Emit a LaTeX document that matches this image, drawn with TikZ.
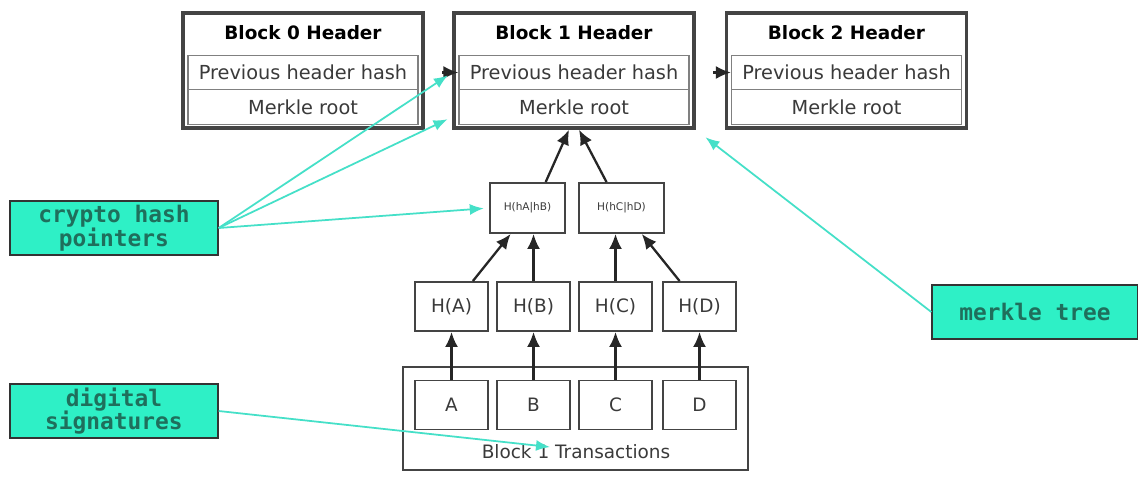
\documentclass[tikz,border=0pt]{standalone}
\usepackage{fontspec}
\setmainfont{DejaVu Sans}
\newfontfamily\tagfont{DejaVu Sans Mono}
\usetikzlibrary{arrows.meta, positioning, calc}
\definecolor{tagFill}{HTML}{2EF0C6}
\definecolor{tagText}{HTML}{1F6F5C}
\definecolor{tagLine}{HTML}{45E0C8}
\definecolor{rowText}{HTML}{3A3A3A}
\definecolor{boxLine}{HTML}{444444}

\begin{document}
\begin{tikzpicture}[x=0.02cm, y=-0.02cm,
        hdr/.style={draw=boxLine, line width=2pt, minimum width=4.8cm, minimum height=2.3cm, inner sep=0pt},
        htitle/.style={font=\fontsize{10.5}{12}\bfseries},
        hrow/.style={draw=gray, line width=0.7pt, minimum width=4.6cm, minimum height=0.69cm, inner sep=0pt,
            text=rowText, font=\fontsize{11}{13}\selectfont},
        hsh/.style={draw=boxLine, line width=1.1pt, minimum width=1.46cm, minimum height=0.98cm, inner sep=0pt,
            text=rowText, font=\fontsize{10.5}{12}\selectfont},
        txbox/.style={draw=boxLine, line width=1.1pt, minimum width=6.9cm, minimum height=2.06cm, inner sep=0pt},
        tag/.style={draw=black!80, fill=tagFill, line width=0.8pt, minimum width=4.16cm, minimum height=1.08cm,
            align=center, text=tagText, font=\tagfont\bfseries\fontsize{13}{13.5}\selectfont, inner sep=0pt},
        arr/.style={-{Latex[length=3mm, width=2.6mm]}, line width=1.3pt, black!85},
        ptr/.style={-{Latex[length=2.8mm, width=2.2mm]}, line width=1pt, tagLine}
    ]
        \fill[white] (0,0) rectangle (1138,477);
        \useasboundingbox (0,0) rectangle (1138,477);

        % block headers
        \node[hdr] (b0) at (303,70.5) {};
        \node[htitle] (t0) at (303,33) {Block 0 Header};
        \node[hrow] (p0) at (303,72.5) {Previous header hash};
        \node[hrow] (m0) at (303,107) {Merkle root};

        \node[hdr] (b1) at (574,70.5) {};
        \node[htitle] (t1) at (574,33) {Block 1 Header};
        \node[hrow] (p1) at (574,72.5) {Previous header hash};
        \node[hrow] (m1) at (574,107) {Merkle root};

        \node[hdr] (b2) at (846.5,70.5) {};
        \node[htitle] (t2) at (846.5,33) {Block 2 Header};
        \node[hrow] (p2) at (846.5,72.5) {Previous header hash};
        \node[hrow] (m2) at (846.5,107) {Merkle root};

        % merkle tree
        \node[hsh, minimum width=1.5cm, minimum height=1cm, font=\fontsize{6}{7}\selectfont] (hAB) at (527.5,208) {H(hA|hB)};
        \node[hsh, minimum width=1.7cm, minimum height=1cm, font=\fontsize{6}{7}\selectfont] (hCD) at (621.5,208) {H(hC|hD)};
        \node[hsh] (hA) at (451.5,306.5) {H(A)};
        \node[hsh] (hB) at (533.5,306.5) {H(B)};
        \node[hsh] (hC) at (615.5,306.5) {H(C)};
        \node[hsh] (hD) at (699.5,306.5) {H(D)};

        % transactions
        \node[txbox] (tx) at (575.5,418.5) {};
        \node[hsh] (A) at (451.5,405) {A};
        \node[hsh] (B) at (533.5,405) {B};
        \node[hsh] (C) at (615.5,405) {C};
        \node[hsh] (D) at (699.5,405) {D};
        \node[text=rowText, font=\fontsize{10.5}{12}\selectfont] (txl) at (576,452) {Block 1 Transactions};

        % labels
        \node[tag] (crypto) at (114,228) {crypto hash\\pointers};
        \node[tag] (digsig) at (114,411) {digital\\signatures};
        \node[tag, minimum width=4.12cm] (mtree) at (1035,312) {merkle tree};

        \draw[arr, shorten <=10pt] (b0.east |- p0) -- (p1.west);
        \draw[arr, shorten <=10pt] (b1.east |- p1) -- (p2.west);

        \draw[arr] (A) -- (hA);
        \draw[arr] (B) -- (hB);
        \draw[arr] (C) -- (hC);
        \draw[arr] (D) -- (hD);
        \draw[arr] (hA.50) -- (hAB.237);
        \draw[arr] (hB.north) -- (hB |- hAB.south);
        \draw[arr] (hC.north) -- (hC |- hCD.south);
        \draw[arr] (hD.128) -- (hCD.-52);
        \draw[arr] (hAB.55) -- ($(b1.south)+(-5,0)$);
        \draw[arr] (hCD.120) -- ($(b1.south)+(5,0)$);

        \coordinate (sig) at (550,447);
        \draw[ptr, shorten >=3pt] (crypto.east) -- (b1.west |- p1);
        \draw[ptr, shorten >=3pt] (crypto.east) -- ($(b1.west |- m1)+(0,10)$);
        \draw[ptr, shorten >=3pt] (crypto.east) -- (hAB.west);
        \draw[ptr] (digsig.east) -- (sig);
        \draw[ptr, shorten >=7pt] (mtree.west) -- (b1.south east);
    \end{tikzpicture}
\end{document}
